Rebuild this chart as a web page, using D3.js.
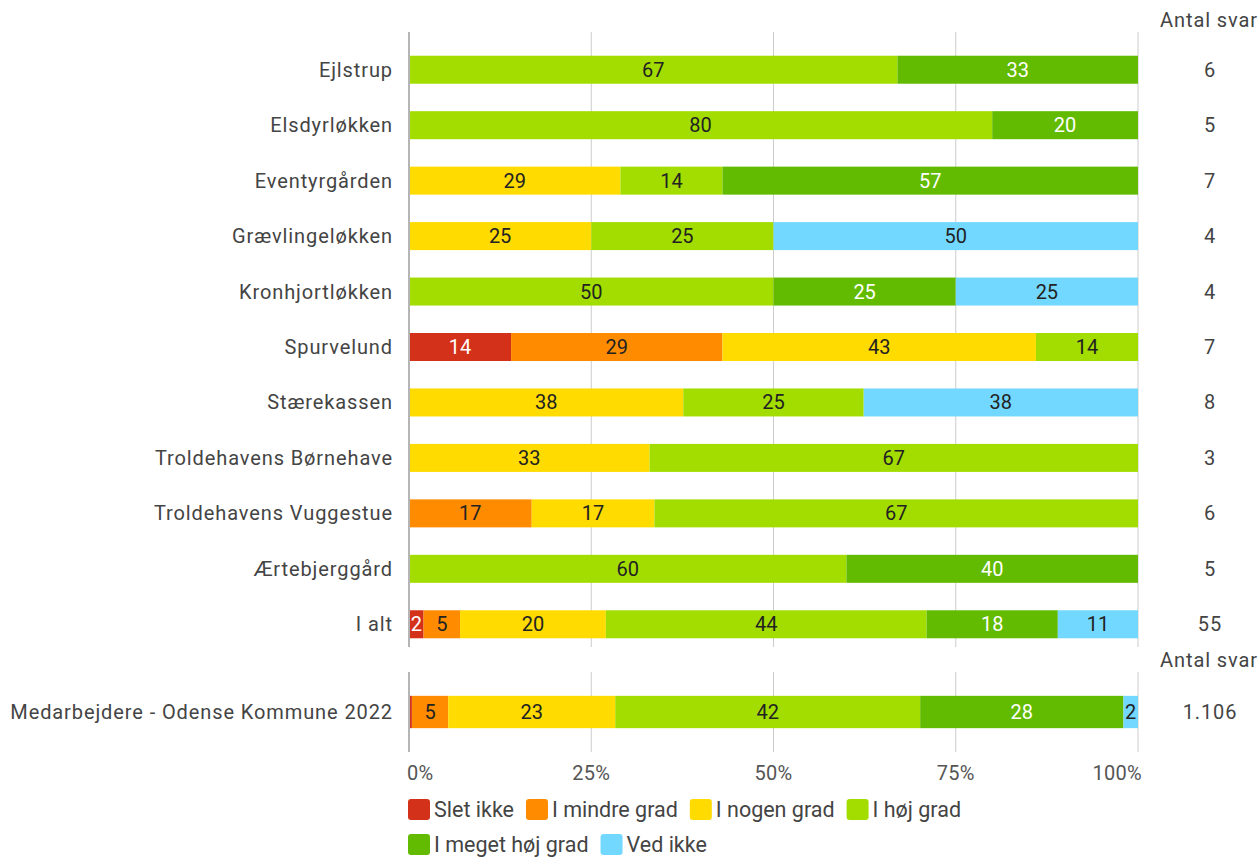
<!DOCTYPE html>
<html>
<head>
<meta charset="utf-8">
<script src="https://cdn.jsdelivr.net/npm/d3@7"></script>
<style>
  html, body { margin: 0; padding: 0; background: #fff; }
  svg { display: block; font-family: Roboto, "Noto Sans", sans-serif; }
</style>
</head>
<body>
<svg id="chart" width="1260" height="858"></svg>
<script>
// Answer categories (stack order, left to right)
const answers = ["Slet ikke", "I mindre grad", "I nogen grad", "I høj grad", "I meget høj grad", "Ved ikke"];
const answerColors = ["#d4311a", "#ff8c00", "#ffdb00", "#a3dd00", "#62bb00", "#73d8ff"];
const whiteLabelAnswers = ["Slet ikke", "I meget høj grad"];

// Institutions (top panel)
const institutions = [
  "Ejlstrup", "Elsdyrløkken", "Eventyrgården", "Grævlingeløkken", "Kronhjortløkken",
  "Spurvelund", "Stærekassen", "Troldehavens Børnehave", "Troldehavens Vuggestue",
  "Ærtebjerggård", "I alt"
];
// Percent shares per institution, one array per answer category
const sletIkke      = [0, 0, 0, 0, 0, 14, 0, 0, 0, 0, 2];
const iMindreGrad   = [0, 0, 0, 0, 0, 29, 0, 0, 17, 0, 5];
const iNogenGrad    = [0, 0, 29, 25, 0, 43, 38, 33, 17, 0, 20];
const iHoejGrad     = [67, 80, 14, 25, 50, 14, 25, 67, 67, 60, 44];
const iMegetHoejGrad= [33, 20, 57, 0, 25, 0, 0, 0, 0, 40, 18];
const vedIkke       = [0, 0, 0, 50, 25, 0, 38, 0, 0, 0, 11];
const antalSvar     = ["6", "5", "7", "4", "4", "7", "8", "3", "6", "5", "55"];

// Benchmark (bottom panel)
const benchmarkLabel = "Medarbejdere - Odense Kommune 2022";
const benchmarkValues = [0.4, 5, 23, 42, 28, 2];
const benchmarkAntal = "1.106";

const tickValues = [0, 25, 50, 75, 100];
const tickLabels = ["0%", "25%", "50%", "75%", "100%"];
const antalHeader = "Antal svar";

// ---- build rows ----
const seriesCols = [sletIkke, iMindreGrad, iNogenGrad, iHoejGrad, iMegetHoejGrad, vedIkke];
const topRows = institutions.map((name, i) => ({
  name, n: antalSvar[i], values: seriesCols.map(col => col[i])
}));
const bottomRows = [{ name: benchmarkLabel, n: benchmarkAntal, values: benchmarkValues }];

const svg = d3.select("#chart");
const x = d3.scaleLinear().domain([0, 100]).range([409, 1138]);
const color = d3.scaleOrdinal().domain(answers).range(answerColors);

function segmentsOf(row) {
  const total = d3.sum(row.values);
  let acc = 0;
  return row.values.map((v, k) => {
    const s = { answer: answers[k], value: v, x0: acc / total * 100, x1: (acc + v) / total * 100 };
    acc += v;
    return s;
  }).filter(s => s.value > 0);
}

const labelStyle = sel => sel.attr("font-size", 20).attr("letter-spacing", "0.9px").attr("fill", "#444");

function drawPanel(rows, yTop, yBottom, gridTop, gridBottom, headerY) {
  const y = d3.scaleBand().domain(rows.map(r => r.name)).range([yTop, yBottom]).paddingInner(0.495).paddingOuter(0.2475);
  const g = svg.append("g");

  // gridlines
  g.selectAll("line.grid").data(tickValues.slice(1)).join("line")
    .attr("x1", d => x(d)).attr("x2", d => x(d))
    .attr("y1", gridTop).attr("y2", gridBottom)
    .attr("stroke", "#cccccc").attr("stroke-width", 1);

  // bars
  const rowG = g.selectAll("g.row").data(rows).join("g")
    .attr("transform", d => `translate(0,${y(d.name)})`);

  rowG.selectAll("rect").data(d => segmentsOf(d)).join("rect")
    .attr("x", s => x(s.x0)).attr("width", s => x(s.x1) - x(s.x0))
    .attr("y", 0).attr("height", y.bandwidth())
    .attr("fill", s => color(s.answer));

  rowG.selectAll("text.val").data(d => segmentsOf(d).filter(s => Math.round(s.value) >= 1)).join("text")
    .attr("class", "val")
    .attr("x", s => (x(s.x0) + x(s.x1)) / 2)
    .attr("y", y.bandwidth() / 2)
    .attr("dy", "0.35em")
    .attr("text-anchor", "middle")
    .attr("font-size", 20)
    .attr("fill", s => whiteLabelAnswers.includes(s.answer) ? "#ffffff" : "#222222")
    .text(s => Math.round(s.value));

  // category labels
  rowG.append("text")
    .attr("x", 393).attr("y", y.bandwidth() / 2).attr("dy", "0.35em")
    .attr("text-anchor", "end").call(labelStyle)
    .text(d => d.name);

  // counts
  rowG.append("text")
    .attr("x", 1210).attr("y", y.bandwidth() / 2).attr("dy", "0.35em")
    .attr("text-anchor", "middle").call(labelStyle)
    .text(d => d.n);

  // header
  g.append("text").attr("x", 1209).attr("y", headerY).attr("dy", "0.35em")
    .attr("text-anchor", "middle").call(labelStyle)
    .text(antalHeader);

  // zero axis line
  g.append("line")
    .attr("x1", x(0)).attr("x2", x(0)).attr("y1", gridTop).attr("y2", gridBottom)
    .attr("stroke", "#b5b5b5").attr("stroke-width", 2);
}

drawPanel(topRows, 42, 652, 32, 647, 20);
drawPanel(bottomRows, 680, 744, 672, 752, 660);

// x axis tick labels: outer labels kept inside the plot edges
svg.append("g").selectAll("text").data(tickValues).join("text")
  .attr("x", (d, i) => i === 0 ? x(d) - 2 : (i === tickValues.length - 1 ? x(d) + 4 : x(d)))
  .attr("y", 773).attr("dy", "0.35em")
  .attr("text-anchor", (d, i) => i === 0 ? "start" : (i === tickValues.length - 1 ? "end" : "middle"))
  .attr("font-size", 20).attr("letter-spacing", "0.3px").attr("fill", "#555")
  .text((d, i) => tickLabels[i]);

// legend
const legendRows = [answers.slice(0, 4), answers.slice(4)];
const legendY = [809.5, 844.5];
const legend = svg.append("g");
legendRows.forEach((items, r) => {
  let cx = 408;
  const cy = legendY[r];
  items.forEach(a => {
    legend.append("rect").attr("x", cx).attr("y", cy - 10.5).attr("width", 22).attr("height", 21)
      .attr("rx", 3).attr("fill", color(a));
    const t = legend.append("text").attr("x", cx + 26).attr("y", cy).attr("dy", "0.35em")
      .attr("font-size", 21.5).attr("fill", "#444").text(a);
    cx += 26 + t.node().getComputedTextLength() + 12;
  });
});
</script>
</body>
</html>
